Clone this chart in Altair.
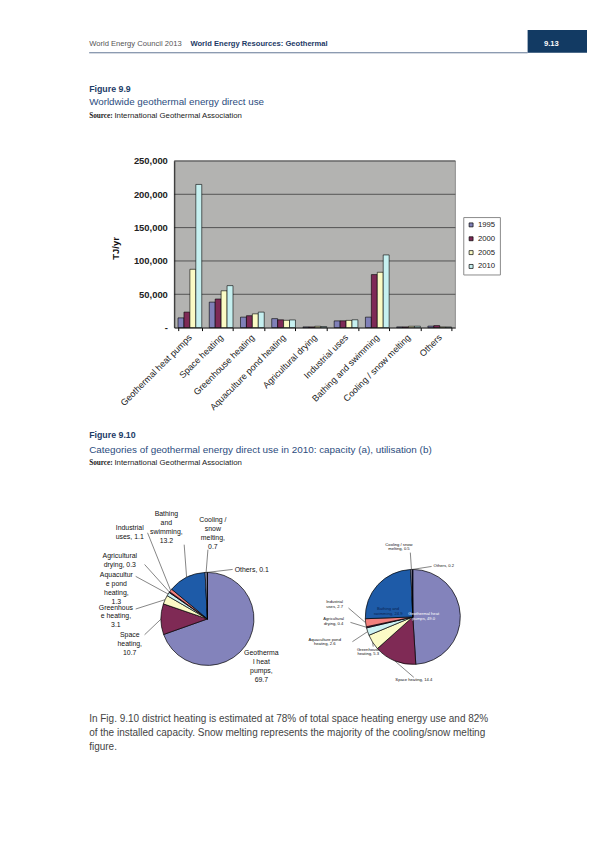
import altair as alt
import pandas as pd

FONT = "Liberation Sans"
NARROW = "Liberation Sans Narrow"
OFF = 8          # page margin
W, H = 585, 818  # canvas (chart) size

# ---------------- data ----------------
categories = ["Geothermal heat pumps", "Space heating", "Greenhouse heating",
              "Aquaculture pond heating", "Agricultural drying", "Industrial uses",
              "Bathing and swimming", "Cooling / snow melting", "Others"]
years = ["1995", "2000", "2005", "2010"]
use_1995 = [14617, 38230, 15742, 13493, 1124, 10120, 15742, 1124, 2249]
use_2000 = [23275, 42926, 17864, 11733, 1038, 10220, 79546, 1063, 3034]
use_2005 = [87503, 55256, 20661, 10976, 2013, 10868, 83018, 2032, 1045]
use_2010 = [214782, 62984, 23264, 11521, 1662, 11746, 109032, 2126, 955]
y_ticks = [0, 50000, 100000, 150000, 200000, 250000]

cap_2010 = [69.7, 10.7, 3.1, 1.3, 0.3, 1.1, 13.2, 0.7, 0.1]
util_2010 = [49.0, 14.4, 5.3, 2.6, 0.4, 2.7, 24.9, 0.5, 0.2]

pie_a_names = ["Geotherma\nl heat\npumps,", "Space\nheating,", "Greenhous\ne heating,",
               "Aquacultur\ne pond\nheating,", "Agricultural\ndrying,", "Industrial\nuses,",
               "Bathing\nand\nswimming,", "Cooling /\nsnow\nmelting,", "Others,"]
pie_a_sep = ["\n", "\n", "\n", "\n", " ", " ", "\n", "\n", " "]
pie_b_names = ["Geothermal heat\npumps,", "Space heating,", "Greenhouse\nheating,",
               "Aquaculture pond\nheating,", "Agricultural\ndrying,", "Industrial\nuses,",
               "Bathing and\nswimming,", "Cooling / snow\nmelting,", "Others,"]

year_colors = ["#8080B8", "#7E2A56", "#FAFAC4", "#C6F0F0"]
cat_colors = ["#8383BB", "#7F2A55", "#FBFBC6", "#CCF2F2", "#660066",
              "#F2807D", "#1E5BA8", "#C8C8F0", "#000080"]

# ---------------- layout (page coordinates) ----------------
PX0, PX1, PY0, PY1 = 176, 460, 158.3, 326.7      # bar plot area
A_CX, A_CY, A_R = 209.5, 621, 47                 # pie (a)
B_CX, B_CY, B_R = 417, 619, 48                   # pie (b)

# label positions: (x, top y, align)
pie_a_lab = [(264, 651.5, "center"), (131, 633.5, "center"), (117, 605.5, "center"),
             (117.5, 572.5, "center"), (121, 553.5, "center"), (131, 525.5, "center"),
             (168, 511.5, "center"), (215, 517.5, "center"), (237, 567.5, "left")]
pie_a_anchor = [None, (146, 637), (137, 611), (137, 578), (146, 566), (149, 534),
                (186, 546), (210, 551), (235, 571)]
pie_b_lab = [(428, 614, "center"), (418, 681, "center"), (372, 650, "center"),
             (328, 640, "center"), (337, 619, "center"), (338, 602, "center"),
             (392, 609, "center"), (403, 544, "center"), (438, 566, "left")]
pie_b_anchor = [None, (418, 680), (377, 649), (356, 644), (354, 624.5), (352, 610),
                None, (414.5, 554), (436, 568)]
pie_b_textcolor = ["#ffffff", "#111", "#111", "#111", "#111", "#111", "#0b2350", "#111", "#111"]


def txt(s, x, y, size, color="#222", weight="normal", align="left",
        baseline="middle", angle=0, font=FONT):
    return alt.Chart(pd.DataFrame({"t": [s]})).mark_text(
        font=font, fontSize=size, color=color, fontWeight=weight, align=align,
        baseline=baseline, angle=angle
    ).encode(x=alt.value(x - OFF), y=alt.value(y - OFF), text="t:N")


one = pd.DataFrame({"k": [0]})

# ---------------- page header ----------------
header_box = alt.Chart(one).mark_rect(fill="#123A63").encode(
    x=alt.value(533 - OFF), x2=alt.value(W), y=alt.value(26 - OFF), y2=alt.value(49 - OFF))
header_line = alt.Chart(one).mark_rule(color="#1d3a66", strokeWidth=0.7).encode(
    x=alt.value(90 - OFF), x2=alt.value(533 - OFF), y=alt.value(49 - OFF))

texts = [
    txt("World Energy Council 2013", 90, 40.5, 7.7, color="#555"),
    txt("World Energy Resources: Geothermal", 192.3, 40.5, 7.7, color="#1d3a66", weight="bold"),
    txt("9.13", 557, 40, 7.7, color="#ffffff", weight="bold", align="center"),
    txt("Figure 9.9", 90, 85.5, 8.9, color="#1d3d68", weight="bold"),
    txt("Worldwide geothermal energy direct use", 90, 98.5, 9.9, color="#2b4c7e"),
    txt("Source:", 90, 112.5, 7.3, color="#222", weight="bold", font=NARROW),
    txt("International Geothermal Association", 115.5, 112.5, 7.9, color="#222"),
    txt("TJ/yr", 116.7, 246.7, 9.5, color="#111", weight="bold", align="center", angle=270),
    txt("Figure 9.10", 90, 435.5, 8.9, color="#1d3d68", weight="bold"),
    txt("Categories of geothermal energy direct use in 2010: capacity (a), utilisation (b)",
        90, 450, 10, color="#2b4c7e"),
    txt("Source:", 90, 463.5, 7.3, color="#222", weight="bold", font=NARROW),
    txt("International Geothermal Association", 115.5, 463.5, 7.9, color="#222"),
    txt("In Fig. 9.10 district heating is estimated at 78% of total space heating energy use and 82%",
        90, 722, 10.1, color="#444"),
    txt("of the installed capacity. Snow melting represents the majority of the cooling/snow melting",
        90, 736.5, 10.1, color="#444"),
    txt("figure.", 90, 750, 10.1, color="#444"),
]

# ---------------- bar chart ----------------
bar_rows = []
for yr, vals in zip(years, [use_1995, use_2000, use_2005, use_2010]):
    for c, v in zip(categories, vals):
        bar_rows.append({"cat": c, "year": yr, "v": v})
bar_df = pd.DataFrame(bar_rows)
grid_df = pd.DataFrame({"v": y_ticks[1:]})

yscale = alt.Scale(domain=[0, 250000], range=[PY1 - OFF, PY0 - OFF], nice=False, zero=True)
yaxis = alt.Axis(values=y_ticks, title=None,
                 labelExpr="datum.value == 0 ? '-' : format(datum.value, ',')",
                 labelFont=FONT, labelFontSize=9.5, labelFontWeight="bold", labelColor="#222",
                 ticks=False, labelPadding=7, domainColor="#000", domainWidth=0.8,
                 grid=False, offset=-(PX0 - OFF), zindex=1)
Y = alt.Y("v:Q", scale=yscale, axis=yaxis)
xaxis = alt.Axis(title=None, labelAngle=-45, labelAlign="right", labelBaseline="middle",
                 labelFont=FONT, labelFontSize=9.1, labelColor="#222", tickBand="extent",
                 tickSize=3, tickColor="#000", domainColor="#000", domainWidth=0.8,
                 labelPadding=5, offset=(PY1 - OFF) - H, zindex=1, labelLimit=200)
X = alt.X("cat:N", sort=categories, axis=xaxis,
          scale=alt.Scale(range=[PX0 - OFF, PX1 - OFF], paddingInner=0.24, paddingOuter=0.12))

plot_bg = alt.Chart(one).mark_rect(fill="#B3B3B1", stroke="#7a7a7a", strokeWidth=0.8).encode(
    x=alt.value(PX0 - OFF), x2=alt.value(PX1 - OFF), y=alt.value(PY0 - OFF), y2=alt.value(PY1 - OFF))
gridlines = alt.Chart(grid_df).mark_rule(color="#3a3a3a", strokeWidth=0.8).encode(
    y=Y, x=alt.value(PX0 - OFF), x2=alt.value(PX1 - OFF))
bars = alt.Chart(bar_df).mark_bar(stroke="black", strokeWidth=0.6).encode(
    x=X,
    xOffset=alt.XOffset("year:N", sort=years, scale=alt.Scale(paddingInner=0, paddingOuter=0)),
    y=Y,
    color=alt.Color("year:N", sort=years,
                    scale=alt.Scale(domain=years, range=year_colors),
                    legend=alt.Legend(orient="none", legendX=468 - OFF, legendY=215 - OFF,
                                      title=None, strokeColor="#8a8a8a", fillColor="#ffffff",
                                      padding=4, rowPadding=5, symbolType="square",
                                      symbolSize=16, symbolStrokeColor="black",
                                      symbolStrokeWidth=0.7, labelFont=FONT,
                                      labelFontSize=7.8, labelColor="#222", labelOffset=3)),
)
bar_chart = alt.layer(plot_bg, gridlines, bars)

# ---------------- pies ----------------
def pie(values, names, seps, labs, anchors, cx, cy, r, fsize, lheight, tcolors):
    df = pd.DataFrame({
        "cat": categories, "ord": list(range(len(categories))), "v": values,
        "label": [n + s + f"{v:.1f}" for n, s, v in zip(names, seps, values)],
        "lx": [p[0] - OFF for p in labs], "ly": [p[1] - OFF for p in labs],
        "al": [p[2] for p in labs],
        "ax": [a[0] - OFF if a else None for a in anchors],
        "ay": [a[1] - OFF if a else None for a in anchors],
        "tc": tcolors,
    })
    ccx, ccy = cx - OFF, cy - OFF
    arcs = alt.Chart(df).mark_arc(radius=r, stroke="black", strokeWidth=0.7).encode(
        theta=alt.Theta("v:Q", stack=True),
        order=alt.Order("ord:Q"),
        color=alt.Color("cat:N", sort=categories,
                        scale=alt.Scale(domain=categories, range=cat_colors), legend=None),
        x=alt.value(ccx), y=alt.value(ccy),
    )
    leaders = alt.Chart(df).transform_joinaggregate(tot="sum(v)").transform_window(
        cum="sum(v)", sort=[alt.SortField("ord")]
    ).transform_calculate(
        a="2*PI*(datum.cum - datum.v/2)/datum.tot",
        ex=f"{ccx} + {r}*sin(datum.a)",
        ey=f"{ccy} - {r}*cos(datum.a)",
    ).transform_filter("isValid(datum.ax)").mark_rule(color="#333", strokeWidth=0.6).encode(
        x=alt.X("ex:Q", scale=None), y=alt.Y("ey:Q", scale=None),
        x2=alt.X2("ax:Q"), y2=alt.Y2("ay:Q"),
    )
    layers = [arcs, leaders]
    for al in ["center", "left"]:
        sub = df[df["al"] == al]
        layers.append(alt.Chart(sub).mark_text(
            font=FONT, fontSize=fsize, lineHeight=lheight, lineBreak="\n",
            align=al, baseline="top").encode(
            x=alt.X("lx:Q", scale=None), y=alt.Y("ly:Q", scale=None), text="label:N",
            color=alt.Color("tc:N", scale=None)))
    return layers


pie_a = pie(cap_2010, pie_a_names, pie_a_sep, pie_a_lab, pie_a_anchor,
            A_CX, A_CY, A_R, 7, 9, ["#111"] * 9)
pie_b = pie(util_2010, pie_b_names, [" "] * 9, pie_b_lab, pie_b_anchor,
            B_CX, B_CY, B_R, 4.2, 4.8, pie_b_textcolor)

chart = alt.layer(
    header_box, header_line, bar_chart, *pie_a, *pie_b, *texts
).resolve_scale(
    x="independent", y="independent", color="independent", theta="independent"
).properties(
    width=W, height=H, padding=0, autosize=alt.AutoSizeParams(type="none"),
    background="#ffffff"
).configure_view(stroke=None)

chart.save("out.html", embed_options={"renderer": "svg", "actions": False})
